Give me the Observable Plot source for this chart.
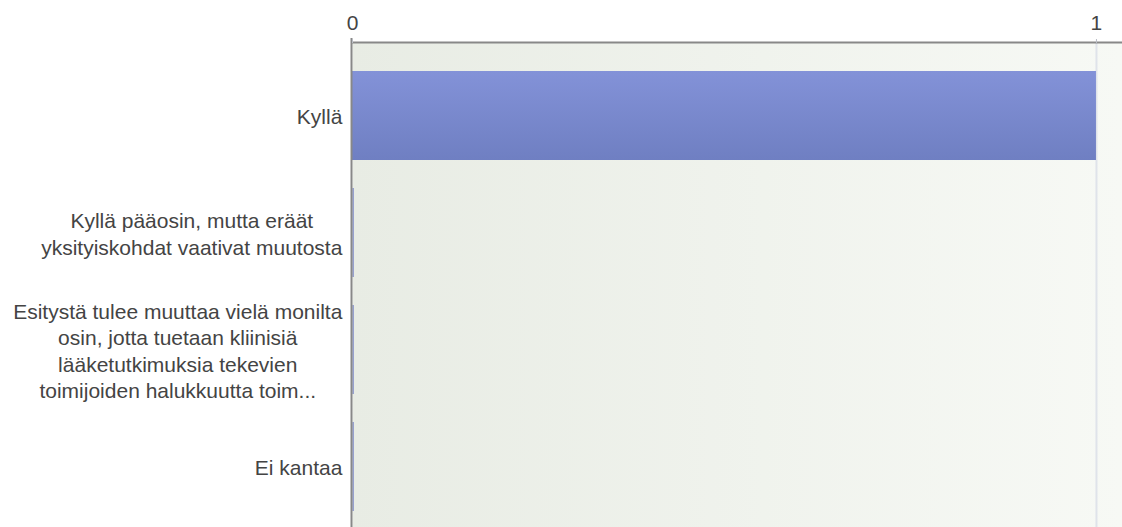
<!DOCTYPE html>
<html>
<head>
<meta charset="utf-8">
<script src="https://cdn.jsdelivr.net/npm/d3@7"></script>
<script src="https://cdn.jsdelivr.net/npm/@observablehq/plot@0.6"></script>
<style>
  html, body { margin: 0; padding: 0; background: #fff; }
  #chart { width: 1122px; height: 527px; overflow: hidden; }
  #chart svg text { font-size: 21px; }
</style>
</head>
<body>
<div id="chart"></div>
<script>
const categories = [
  "Kyllä",
  "Kyllä pääosin, mutta eräät yksityiskohdat vaativat muutosta",
  "Esitystä tulee muuttaa vielä monilta osin, jotta tuetaan kliinisiä lääketutkimuksia tekevien toimijoiden halukkuutta toim...",
  "Ei kantaa"
];
const tickLabels = [
  "Kyllä",
  "Kyllä pääosin, mutta eräät\nyksityiskohdat vaativat muutosta",
  "Esitystä tulee muuttaa vielä monilta\nosin, jotta tuetaan kliinisiä\nlääketutkimuksia tekevien\ntoimijoiden halukkuutta toim...",
  "Ei kantaa"
];
const values = [1, 0, 0, 0];
const xTicks = [0, 1];

const data = categories.map((c, i) => ({category: c, value: values[i]}));
const labelOf = new Map(categories.map((c, i) => [c, tickLabels[i]]));

const FS = 21;

const chart = Plot.plot({
  width: 1122,
  height: 527,
  marginLeft: 352,
  marginRight: 0,
  marginTop: 42,
  marginBottom: 0,
  style: {fontFamily: "'Liberation Sans', Arial, sans-serif", fontSize: FS + "px", color: "#444", background: "transparent"},
  x: {domain: [0, 1.035]},
  y: {domain: categories, range: [57, 525], paddingInner: 0.2393, paddingOuter: 0.1197, round: false},
  marks: [
    Plot.frame({fill: "url(#bgGrad)", stroke: null}),
    Plot.gridX([1], {stroke: "#dfe3ea", strokeWidth: 2, strokeOpacity: 1}),
    Plot.barX(data, {x1: 0, x2: "value", y: "category", fill: "url(#barGrad)"}),
    Plot.tickX(data.filter(d => d.value === 0), {x: "value", y: "category", stroke: "#7482c4", strokeWidth: 1.2, dx: 0.6}),
    Plot.ruleX([0], {stroke: "#888", strokeWidth: 2, dx: -1, insetTop: -4}),
    Plot.frame({anchor: "top", stroke: "#888", strokeWidth: 2}),
    Plot.axisX({anchor: "top", ticks: xTicks, tickFormat: d => String(d), tickSize: 4, tickPadding: 9, stroke: "#b8bcc4", label: null, fill: "#444", fontSize: FS}),
    Plot.axisY({tickSize: 0, tickPadding: 10, tickFormat: d => labelOf.get(d), label: null, fill: "#444", fontSize: FS, lineHeight: 1.26})
  ]
});

document.getElementById("chart").appendChild(chart);

const svg = d3.select(chart);
const defs = svg.insert("defs", ":first-child");
const bg = defs.append("linearGradient").attr("id", "bgGrad").attr("x1", "0").attr("x2", "1").attr("y1", "0").attr("y2", "0");
bg.append("stop").attr("offset", "0").attr("stop-color", "#e8ece4");
bg.append("stop").attr("offset", "1").attr("stop-color", "#f7f9f5");
const bar = defs.append("linearGradient").attr("id", "barGrad").attr("x1", "0").attr("x2", "0").attr("y1", "0").attr("y2", "1");
bar.append("stop").attr("offset", "0").attr("stop-color", "#8392d8");
bar.append("stop").attr("offset", "1").attr("stop-color", "#6f7fc2");

svg.selectAll("text").style("font-size", FS + "px");

// center the lines of each wrapped y label within its right-aligned block
svg.selectAll('g[aria-label="y-axis tick label"] text').each(function() {
  const w = this.getBBox().width;
  const sel = d3.select(this);
  sel.attr("text-anchor", "middle");
  if (sel.selectAll("tspan").empty()) sel.attr("x", -w / 2);
  else sel.selectAll("tspan").attr("x", -w / 2);
});
</script>
</body>
</html>
